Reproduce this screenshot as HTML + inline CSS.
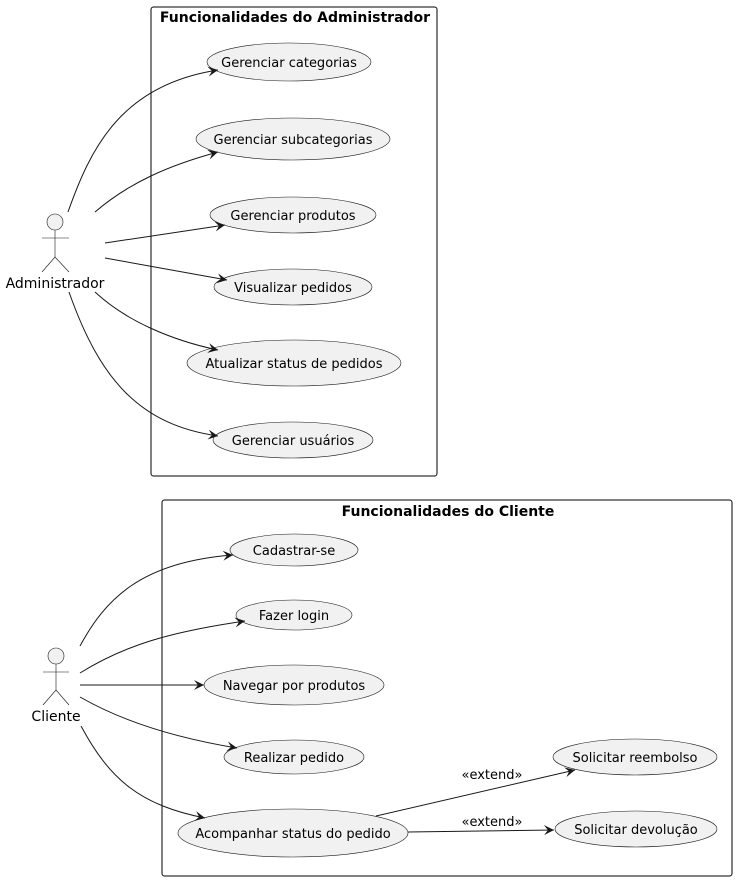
<!DOCTYPE html>
<html><head><meta charset="utf-8"><style>
html,body{margin:0;padding:0;background:#fff;}
svg{display:block;}
text{font-family:"DejaVu Sans","Liberation Sans",sans-serif;font-size:13px;fill:#000;}
.t{font-weight:bold;font-size:14px;}
.l{font-size:14px;}
ellipse{fill:#f1f1f1;stroke:#181818;stroke-width:0.6;}
.a{fill:none;stroke:#181818;stroke-width:1;}
</style></head><body>
<svg width="737" height="881" viewBox="0 0 737 881" xmlns="http://www.w3.org/2000/svg">
<defs>
<marker id="ar" markerWidth="12" markerHeight="10" refX="10" refY="5" orient="auto" markerUnits="userSpaceOnUse">
<path d="M0,0 L10,5 L0,10 L4,5 Z" fill="#181818"/>
</marker>
</defs>
<rect x="151" y="7" width="286" height="469" rx="2.5" fill="none" stroke="#000" stroke-width="1"/>
<text class="t" x="295" y="22" text-anchor="middle">Funcionalidades do Administrador</text>
<rect x="162" y="500" width="570" height="376" rx="2.5" fill="none" stroke="#000" stroke-width="1"/>
<text class="t" x="448" y="516" text-anchor="middle">Funcionalidades do Cliente</text>

<ellipse cx="289" cy="62" rx="82" ry="19"/><text x="289" y="67" text-anchor="middle">Gerenciar categorias</text>
<ellipse cx="293" cy="139" rx="97" ry="21"/><text x="293" y="144" text-anchor="middle">Gerenciar subcategorias</text>
<ellipse cx="293" cy="215" rx="83" ry="18"/><text x="293" y="220" text-anchor="middle">Gerenciar produtos</text>
<ellipse cx="293" cy="287" rx="79" ry="18"/><text x="293" y="292" text-anchor="middle">Visualizar pedidos</text>
<ellipse cx="294" cy="363" rx="107" ry="23"/><text x="294" y="368" text-anchor="middle">Atualizar status de pedidos</text>
<ellipse cx="293" cy="440" rx="80" ry="18"/><text x="293" y="445" text-anchor="middle">Gerenciar usuários</text>

<g stroke="#181818" stroke-width="0.6" fill="none">
<circle cx="55" cy="222" r="8" fill="#f1f1f1"/>
<line x1="55" y1="230" x2="55" y2="257"/>
<line x1="42" y1="238" x2="69" y2="238"/>
<line x1="55" y1="257" x2="42" y2="272"/>
<line x1="55" y1="257" x2="69" y2="272"/>
</g>
<text class="l" x="55" y="288" text-anchor="middle">Administrador</text>

<path class="a" marker-end="url(#ar)" d="M68,212 C90,150 120,85 218,70"/>
<path class="a" marker-end="url(#ar)" d="M95,212 C130,182 170,165 218,152"/>
<path class="a" marker-end="url(#ar)" d="M105,243 L225,225"/>
<path class="a" marker-end="url(#ar)" d="M105,258 L227,280"/>
<path class="a" marker-end="url(#ar)" d="M95,292 C125,320 170,340 218,350"/>
<path class="a" marker-end="url(#ar)" d="M69,292 C100,380 140,425 218,436"/>

<ellipse cx="294" cy="550" rx="64" ry="16"/><text x="294" y="555" text-anchor="middle">Cadastrar-se</text>
<ellipse cx="294" cy="615" rx="58" ry="15"/><text x="294" y="620" text-anchor="middle">Fazer login</text>
<ellipse cx="294" cy="685" rx="90" ry="20"/><text x="294" y="690" text-anchor="middle">Navegar por produtos</text>
<ellipse cx="294" cy="757" rx="70" ry="17"/><text x="294" y="762" text-anchor="middle">Realizar pedido</text>
<ellipse cx="293" cy="833" rx="115" ry="24"/><text x="293" y="838" text-anchor="middle">Acompanhar status do pedido</text>
<ellipse cx="635" cy="757" rx="82" ry="18"/><text x="635" y="762" text-anchor="middle">Solicitar reembolso</text>
<ellipse cx="636" cy="829" rx="81" ry="18"/><text x="636" y="834" text-anchor="middle">Solicitar devolução</text>

<g stroke="#181818" stroke-width="0.6" fill="none">
<circle cx="56" cy="656" r="8" fill="#f1f1f1"/>
<line x1="56" y1="664" x2="56" y2="690"/>
<line x1="43" y1="672" x2="69" y2="672"/>
<line x1="56" y1="690" x2="43" y2="705"/>
<line x1="56" y1="690" x2="69" y2="705"/>
</g>
<text class="l" x="56" y="721" text-anchor="middle">Cliente</text>

<path class="a" marker-end="url(#ar)" d="M80,646 C105,600 140,562 233,555"/>
<path class="a" marker-end="url(#ar)" d="M80,673 C125,645 170,632 245,621"/>
<path class="a" marker-end="url(#ar)" d="M80,685 L204,685"/>
<path class="a" marker-end="url(#ar)" d="M80,697 C120,720 170,737 237,748"/>
<path class="a" marker-end="url(#ar)" d="M81,726 C110,780 140,805 205,818"/>

<path class="a" marker-end="url(#ar)" d="M376,816 L575,770"/>
<text x="492" y="779" text-anchor="middle">«extend»</text>
<path class="a" marker-end="url(#ar)" d="M408,832 L554,830"/>
<text x="492" y="826" text-anchor="middle">«extend»</text>
</svg>
</body></html>
